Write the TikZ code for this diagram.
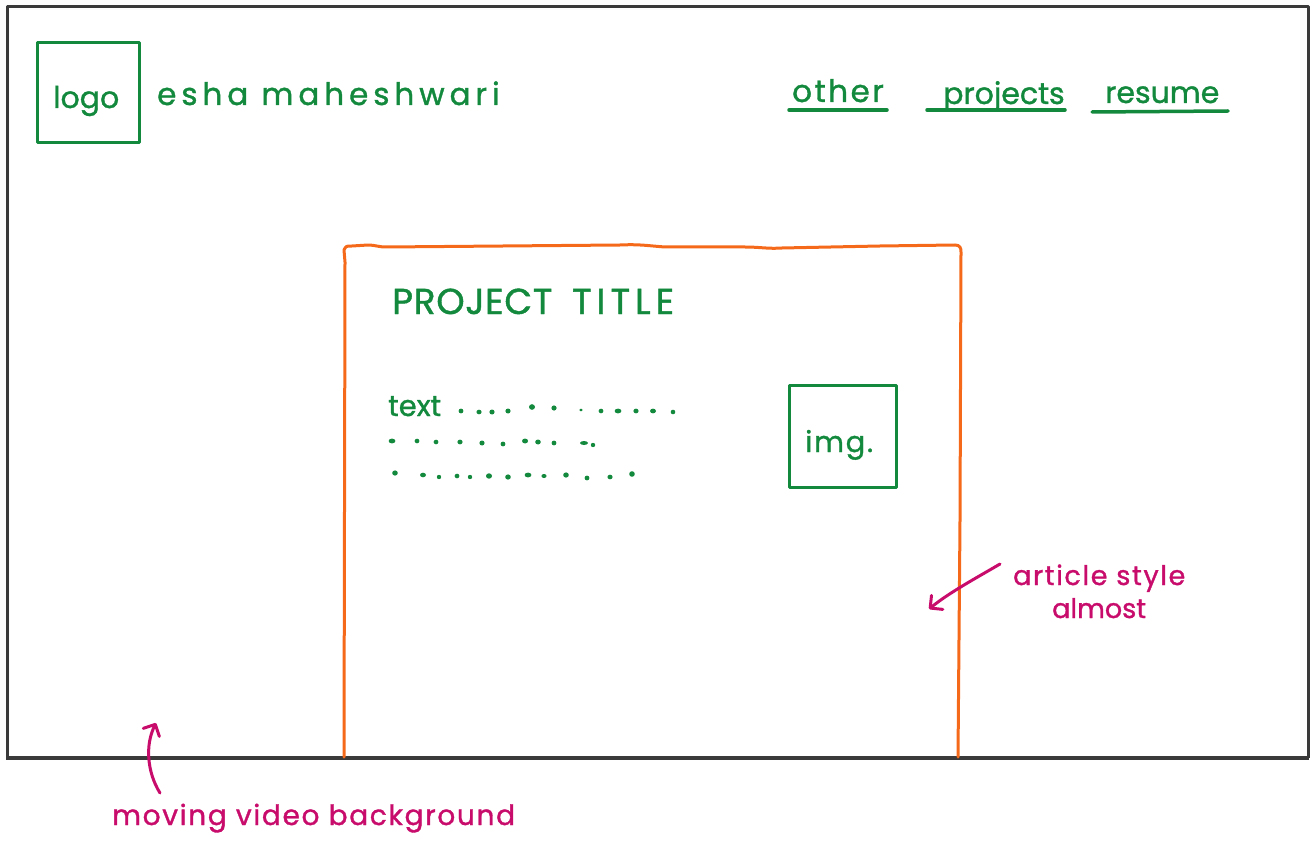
\documentclass[tikz,border=0pt]{standalone}
\usepackage{fontspec}
\setmainfont{Poppins}[FakeBold=1.2]
\usetikzlibrary{arrows.meta}
\definecolor{ink}{HTML}{3A3A3A}
\definecolor{leaf}{HTML}{12893C}
\definecolor{tang}{HTML}{F56A1A}
\definecolor{berry}{HTML}{C80C6C}
\newcommand\hw[3]{{\fontsize{#1}{#1}\selectfont\addfontfeatures{LetterSpace=#2}#3}}
\tikzset{
  frameline/.style={draw=ink, line width=3pt, line join=round},
  greenbox/.style={draw=leaf, line width=3pt, line cap=round, line join=round},
  orangeline/.style={draw=tang, line width=3pt, line cap=round, line join=round},
  label/.style={inner sep=0pt, anchor=base west},
  greentext/.style={label, text=leaf},
  pinktext/.style={label, text=berry},
  navline/.style={draw=leaf, line width=3.5pt, line cap=round},
  pinkarrow/.style={draw=berry, line width=3pt, line cap=round,
    -{Straight Barb[length=9pt,width=18pt,line width=3pt,round]}},
  dot/.style={fill=leaf},
}
\begin{document}
\begin{tikzpicture}[x=1pt,y=-1pt]
\useasboundingbox (0,0) rectangle (1314,850);

% page frame
\draw[frameline] (7,758) -- (7,7) -- (1308,7) -- (1308,758);
\draw[draw=ink, line width=4pt] (6,758) -- (1309,758);

% header
\node[greenbox, minimum width=102pt, minimum height=100pt, inner sep=0pt] (logobox) at (88,93) {};
\node[greentext] (logo) at (53,108) {\hw{30}{0}{logo}};
\node[greentext] (name) at (157,105) {\hw{31}{16}{esha maheshwari}};

\node[greentext] (other) at (792,102) {\hw{31}{8}{other}};
\node[greentext] (projects) at (943,104) {\hw{30}{0}{projects}};
\node[greentext] (resume) at (1105,103) {\hw{30}{0}{resume}};
\coordinate (u1a) at (789,110); \coordinate (u1b) at (887,110);
\coordinate (u2a) at (927,110); \coordinate (u2b) at (1065,110);
\coordinate (u3a) at (1092,112); \coordinate (u3b) at (1228,111);
\draw[navline] (u1a) -- (u1b);
\draw[navline] (u2a) -- (u2b);
\draw[navline] (u3a) -- (u3b);

% article panel
\draw[orangeline] (344,757) -- (345,262) -- (344,250)
  .. controls (346,246) .. (352,246) -- (368,245) .. controls (375,245) and (378,247) .. (386,247)
  -- (620,245) .. controls (640,244) and (650,246) .. (665,247) -- (745,247)
  .. controls (760,247) and (768,249) .. (782,248) -- (880,246) -- (955,245)
  .. controls (960,245) and (961,248) .. (961,252) -- (960,520) -- (958,757);

\node[greentext] (title) at (392,314) {\hw{36}{2}{PROJECT}};
\node[greentext] (title2) at (572,314) {\hw{36}{14}{TITLE}};
\node[greentext] (text) at (388,416) {\hw{29}{0}{text}};

% placeholder copy
\foreach \x/\y/\a/\b in {
  461/411/2.4/2.4, 479/412/2.6/2.3, 492/412/2.6/2.5, 508/411/2.6/2.5,
  532/407/3.0/2.8, 554/408/2.6/2.6, 581/410/1.8/1.4, 601/411/2.4/2.3,
  618/411/3.4/2.4, 636/411/2.6/2.4, 653/411/3.0/2.4, 673/412/2.3/2.3,
  392/441/3.4/2.4, 417/441/2.4/2.3, 436/442/2.4/2.3, 460/442/2.6/2.4,
  482/443/2.6/2.5, 503/444/2.4/2.4, 525/441/3.0/2.5, 538/442/2.8/2.5,
  554/443/2.4/2.4, 584/443/4.0/2.0, 593/445/2.2/2.2,
  395/473/2.8/2.6, 423/475/3.0/2.3, 439/477/2.2/2.2, 457/476/2.4/2.3,
  470/477/2.2/2.2, 489/476/3.0/2.7, 508/477/2.8/2.6, 528/475/3.4/2.4,
  544/476/2.6/2.0, 566/475/2.8/2.6, 587/478/2.4/2.4, 610/477/2.6/2.3,
  632/474/2.8/2.8}
  \fill[dot] (\x,\y) ellipse [x radius=\a, y radius=\b];

\node[greenbox, minimum width=107pt, minimum height=102pt, inner sep=0pt] (imgbox) at (842.5,436) {};
\node[greentext] (img) at (805,452) {\hw{29}{6}{img.}};

% notes
\node[pinktext] (note1) at (1013,585) {\hw{27}{6}{article style}};
\node[pinktext] (note2) at (1052,618) {\hw{27}{0}{almost}};
\coordinate (n1tail) at (1000,564);
\coordinate (n1tip) at (929,609);
\draw[pinkarrow] (n1tail) .. controls (978,577) and (950,592) .. (n1tip);

\node[pinktext] (note3) at (112,825) {\hw{28}{6}{moving video background}};
\coordinate (n3tail) at (160,793);
\coordinate (n3tip) at (156,723);
\draw[pinkarrow] (n3tail) .. controls (147,772) and (145,745) .. (n3tip);
\end{tikzpicture}
\end{document}
